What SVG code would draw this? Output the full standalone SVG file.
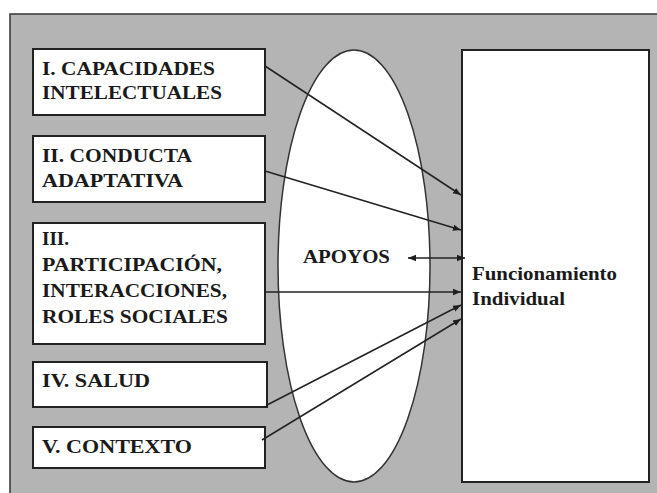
<svg xmlns="http://www.w3.org/2000/svg" width="657" height="493" viewBox="0 0 657 493">
<defs>
<marker id="ah" viewBox="0 0 10 10" refX="10" refY="5" markerWidth="8" markerHeight="8" markerUnits="userSpaceOnUse" orient="auto-start-reverse">
<path d="M0,1 L10,5 L0,9 Z" fill="#1e1e1e"/>
</marker>
</defs>
<style>
.box{fill:#ffffff;stroke:#222222;stroke-width:2}
.t{font-family:'Liberation Serif','DejaVu Serif',serif;font-weight:700;font-size:19px;fill:#1a1a1a}
.c{stroke:#222222;stroke-width:1.5;fill:none;marker-end:url(#ah)}
</style>
<rect x="0" y="0" width="657" height="493" fill="#ffffff"/>
<rect id="background" x="10" y="14" width="660" height="500" fill="#b4b4b4" stroke="#333333" stroke-width="1.5"/>
<g id="apoyos-ellipse">
<ellipse cx="354" cy="266" rx="76" ry="216" fill="#ffffff" stroke="#333333" stroke-width="1.5"/>
<text class="t" x="303" y="263" textLength="87" lengthAdjust="spacingAndGlyphs">APOYOS</text>
</g>
<g id="funcionamiento">
<rect class="box" x="462" y="50" width="187" height="432"/>
<text class="t" x="472" y="280" textLength="145" lengthAdjust="spacingAndGlyphs">Funcionamiento</text>
<text class="t" x="472" y="305" textLength="93" lengthAdjust="spacingAndGlyphs">Individual</text>
</g>
<g id="n1">
<rect class="box" x="33" y="49" width="232" height="66"/>
<text class="t" x="42" y="75" textLength="173" lengthAdjust="spacingAndGlyphs">I. CAPACIDADES</text>
<text class="t" x="42" y="99" textLength="180" lengthAdjust="spacingAndGlyphs">INTELECTUALES</text>
</g>
<g id="n2">
<rect class="box" x="33" y="136" width="232" height="66"/>
<text class="t" x="42" y="162" textLength="150" lengthAdjust="spacingAndGlyphs">II. CONDUCTA</text>
<text class="t" x="42" y="187" textLength="141" lengthAdjust="spacingAndGlyphs">ADAPTATIVA</text>
</g>
<g id="n3">
<rect class="box" x="33" y="223" width="232" height="121"/>
<text class="t" x="42" y="245" textLength="27" lengthAdjust="spacingAndGlyphs">III.</text>
<text class="t" x="42" y="271" textLength="180" lengthAdjust="spacingAndGlyphs">PARTICIPACIÓN,</text>
<text class="t" x="42" y="297" textLength="185" lengthAdjust="spacingAndGlyphs">INTERACCIONES,</text>
<text class="t" x="42" y="323" textLength="186" lengthAdjust="spacingAndGlyphs">ROLES SOCIALES</text>
</g>
<g id="n4">
<rect class="box" x="33" y="362" width="234" height="45"/>
<text class="t" x="42" y="387" textLength="108" lengthAdjust="spacingAndGlyphs">IV. SALUD</text>
</g>
<g id="n5">
<rect class="box" x="33" y="427" width="232" height="41"/>
<text class="t" x="42" y="453" textLength="150" lengthAdjust="spacingAndGlyphs">V. CONTEXTO</text>
</g>
<g id="connectors">
<line class="c" x1="265" y1="66" x2="461" y2="195"/>
<line class="c" x1="265" y1="171" x2="461" y2="230"/>
<line class="c" x1="265" y1="292" x2="461" y2="292"/>
<line class="c" x1="267" y1="405" x2="461" y2="305"/>
<line class="c" x1="262" y1="440" x2="461" y2="319"/>
<line class="c" x1="465" y1="258" x2="408" y2="258" style="marker-start:url(#ah)"/>
</g>
</svg>
